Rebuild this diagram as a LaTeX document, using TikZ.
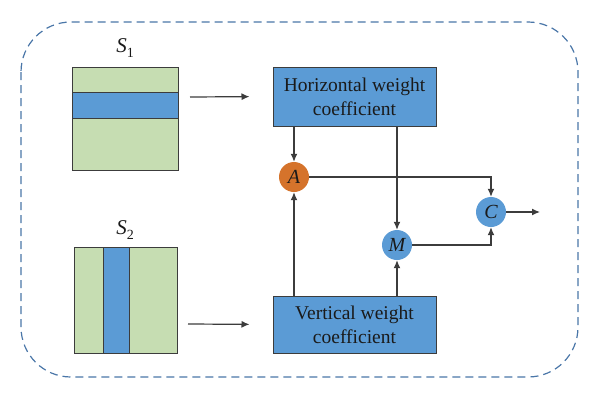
\documentclass[tikz,border=0pt]{standalone}
\usepackage{fontspec}
\setmainfont{Liberation Serif}
\usetikzlibrary{arrows.meta}
\definecolor{bblue}{HTML}{5B9BD5}
\definecolor{lgreen}{HTML}{C6DDB2}
\definecolor{orng}{HTML}{D5732B}
\definecolor{dashblue}{HTML}{4A76A8}
\definecolor{edgec}{HTML}{3C3C3C}
\definecolor{txt}{HTML}{1A1A1A}
\begin{document}
\begin{tikzpicture}[x=1pt,y=-1pt,
  panel/.style={draw=edgec, line width=1pt, fill=lgreen, inner sep=0pt},
  stripe/.style={draw=edgec, line width=1pt, fill=bblue},
  wbox/.style={draw=edgec, line width=1pt, fill=bblue, text=txt, align=center,
    minimum width=163pt, inner sep=0pt, font=\fontsize{19.5}{24}\selectfont},
  opnode/.style={circle, minimum size=30pt, inner sep=0pt, text=txt,
    font=\fontsize{20}{20}\selectfont\itshape},
  lbl/.style={text=txt, font=\fontsize{21}{21}\selectfont},
  arr/.style={draw=edgec, line width=1.2pt, -{Latex[length=8pt,width=7pt]}}
]
\useasboundingbox (0,0) rectangle (600,399);
\draw[dashblue, line width=1.2pt, dash pattern=on 8pt off 5pt, rounded corners=50pt]
  (21,22) rectangle (578,377);

% S1 panel
\node[panel, minimum width=106pt, minimum height=103pt] (s1) at (125,118.5) {};
\draw[stripe] (72,92) rectangle (178,118);
\node[lbl] (s1l) at (125,48) {\textit{S}\raisebox{-0.45ex}{\fontsize{14}{14}\selectfont 1}};

% S2 panel
\node[panel, minimum width=103pt, minimum height=106pt] (s2) at (125.5,300) {};
\draw[stripe] (103,247) rectangle (129,353);
\node[lbl] (s2l) at (125,230) {\textit{S}\raisebox{-0.45ex}{\fontsize{14}{14}\selectfont 2}};

% weight boxes
\node[wbox, minimum height=59pt] (H) at (354.5,96.5) {Horizontal weight\\coefficient};
\node[wbox, minimum height=57pt] (V) at (354.5,324.5) {Vertical weight\\coefficient};

% operator nodes
\node[opnode, fill=orng] (A) at (294,177) {A};
\node[opnode, fill=bblue] (M) at (397,245) {M};
\node[opnode, fill=bblue] (C) at (491,212) {C};

% connectors
\coordinate (p1) at (190,97);
\coordinate (p2) at (188,324);
\coordinate (cout) at (540,212);
\draw[arr, shorten >=23pt] (p1) -- (H.west);
\draw[arr, shorten >=23pt] (p2) -- (V.west);
\draw[arr] (H.south -| A) -- (A.north);
\draw[arr] (V.north -| A) -- (A.south);
\draw[arr] (H.south -| M) -- (M.north);
\draw[arr] (V.north -| M) -- (M.south);
\draw[arr] (A.east) -| (C.north);
\draw[arr] (M.east) -| (C.south);
\draw[arr] (C.east) -- (cout);
\end{tikzpicture}
\end{document}
